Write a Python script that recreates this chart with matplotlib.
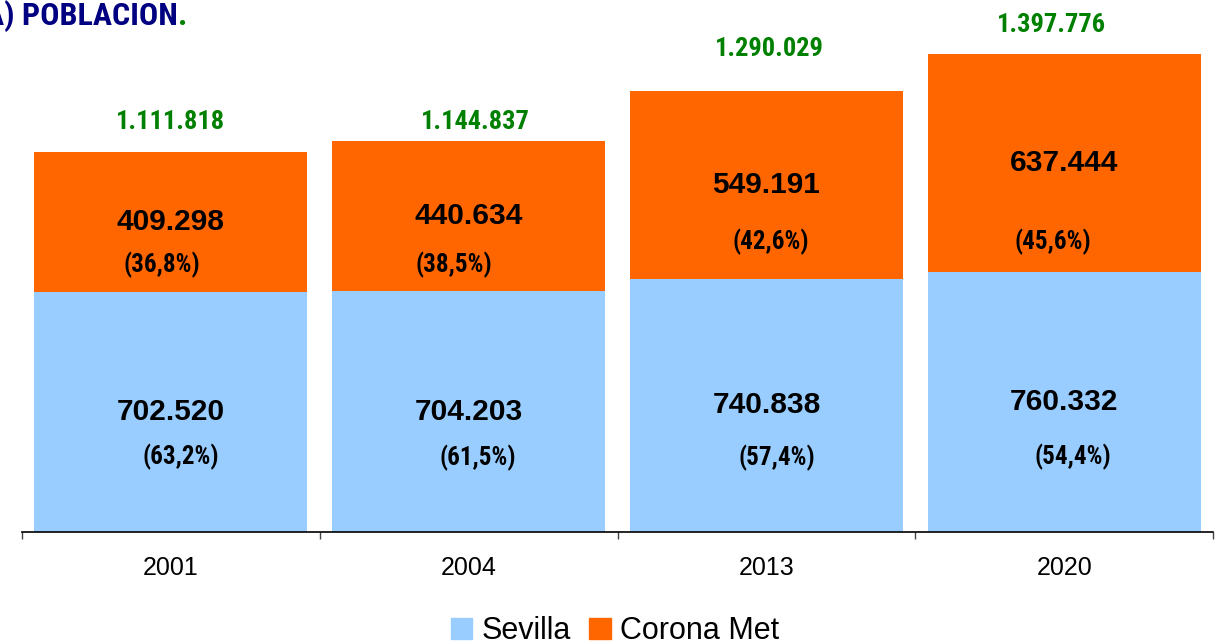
import matplotlib.pyplot as plt
from matplotlib.patches import Patch

# data
years = ['2001', '2004', '2013', '2020']
sevilla = [702520, 704203, 740838, 760332]
corona = [409298, 440634, 549191, 637444]
totals = [1111818, 1144837, 1290029, 1397776]
sevilla_pct = ['(63,2%)', '(61,5%)', '(57,4%)', '(54,4%)']
corona_pct = ['(36,8%)', '(38,5%)', '(42,6%)', '(45,6%)']

blue = '#99CCFF'
orange = '#FF6600'
green = '#008000'
navy = '#000080'
narrow = ['Roboto Condensed', 'Barlow Semi Condensed', 'Liberation Sans']

def fmt(v):
    return f'{v:,}'.replace(',', '.')

# label nudges in pixels (dx, dy)
tot_nudge = [(0, 30), (7, 19), (3, 42), (-13, 29)]
cor_nudge = [(-9, -43), (-15, -49), (4, -57), (-11, -79)]
sev_nudge = [(10, -45), (9, -46), (10, -52), (9, -55)]
px = 0.72

W, H = 1217, 644
fig = plt.figure(figsize=(W / 100, H / 100), dpi=100)
ax = fig.add_axes([22 / W, 112 / H, (1213 - 22) / W, 532 / H])

x = list(range(len(years)))
ax.bar(x, sevilla, width=0.917, color=blue)
ax.bar(x, corona, width=0.917, bottom=sevilla, color=orange)
ax.set_xlim(-0.5, len(years) - 0.5)
ax.set_ylim(0, 532 / 341.8 * 1e6)

for i in x:
    s, c, t = sevilla[i], corona[i], totals[i]
    ax.text(i, s / 2, fmt(s), ha='center', va='center', fontsize=21.5,
            fontweight='bold', family='Liberation Sans')
    ax.text(i, s + c / 2, fmt(c), ha='center', va='center', fontsize=21.5,
            fontweight='bold', family='Liberation Sans')
    dx, dy = sev_nudge[i]
    ax.annotate(sevilla_pct[i], (i, s / 2), xytext=(dx * px, dy * px),
                textcoords='offset points', ha='center', va='center',
                fontsize=18, fontweight='bold', family=narrow)
    dx, dy = cor_nudge[i]
    ax.annotate(corona_pct[i], (i, s + c / 2), xytext=(dx * px, dy * px),
                textcoords='offset points', ha='center', va='center',
                fontsize=18, fontweight='bold', family=narrow)
    dx, dy = tot_nudge[i]
    ax.annotate(fmt(t), (i, s + c), xytext=(dx * px, dy * px),
                textcoords='offset points', ha='center', va='center',
                fontsize=19, fontweight='bold', color=green, family=narrow)

for sp in ['left', 'right', 'top']:
    ax.spines[sp].set_visible(False)
ax.spines['bottom'].set_linewidth(1.2)
ax.set_yticks([])
ax.set_xticks([i - 0.5 for i in range(len(years) + 1)])
ax.set_xticklabels([])
ax.tick_params(axis='x', which='major', direction='out', length=5, width=1, color='#444444')
ax.set_xticks(x, minor=True)
ax.set_xticklabels(years, minor=True, fontsize=18, family='Liberation Sans')
ax.tick_params(axis='x', which='minor', length=0, pad=17)

fig.text(178 / W, 1 - 25 / H, 'A) POBLACION', ha='right', va='baseline',
         fontsize=23, fontweight='bold', color=navy, family=narrow)
fig.text(178 / W, 1 - 25 / H, '.', ha='left', va='baseline',
         fontsize=23, fontweight='bold', color=green, family=narrow)

handles = [Patch(color=blue, label='Sevilla'), Patch(color=orange, label='Corona Met')]
fig.legend(handles=handles, loc='center', bbox_to_anchor=(615 / W, 1 - 631 / H),
           ncol=2, frameon=False, handlelength=0.7, handleheight=0.7,
           handletextpad=0.3, columnspacing=0.6, borderpad=0,
           prop={'family': 'Liberation Sans', 'size': 22})

fig.savefig('out.png', dpi=100)
